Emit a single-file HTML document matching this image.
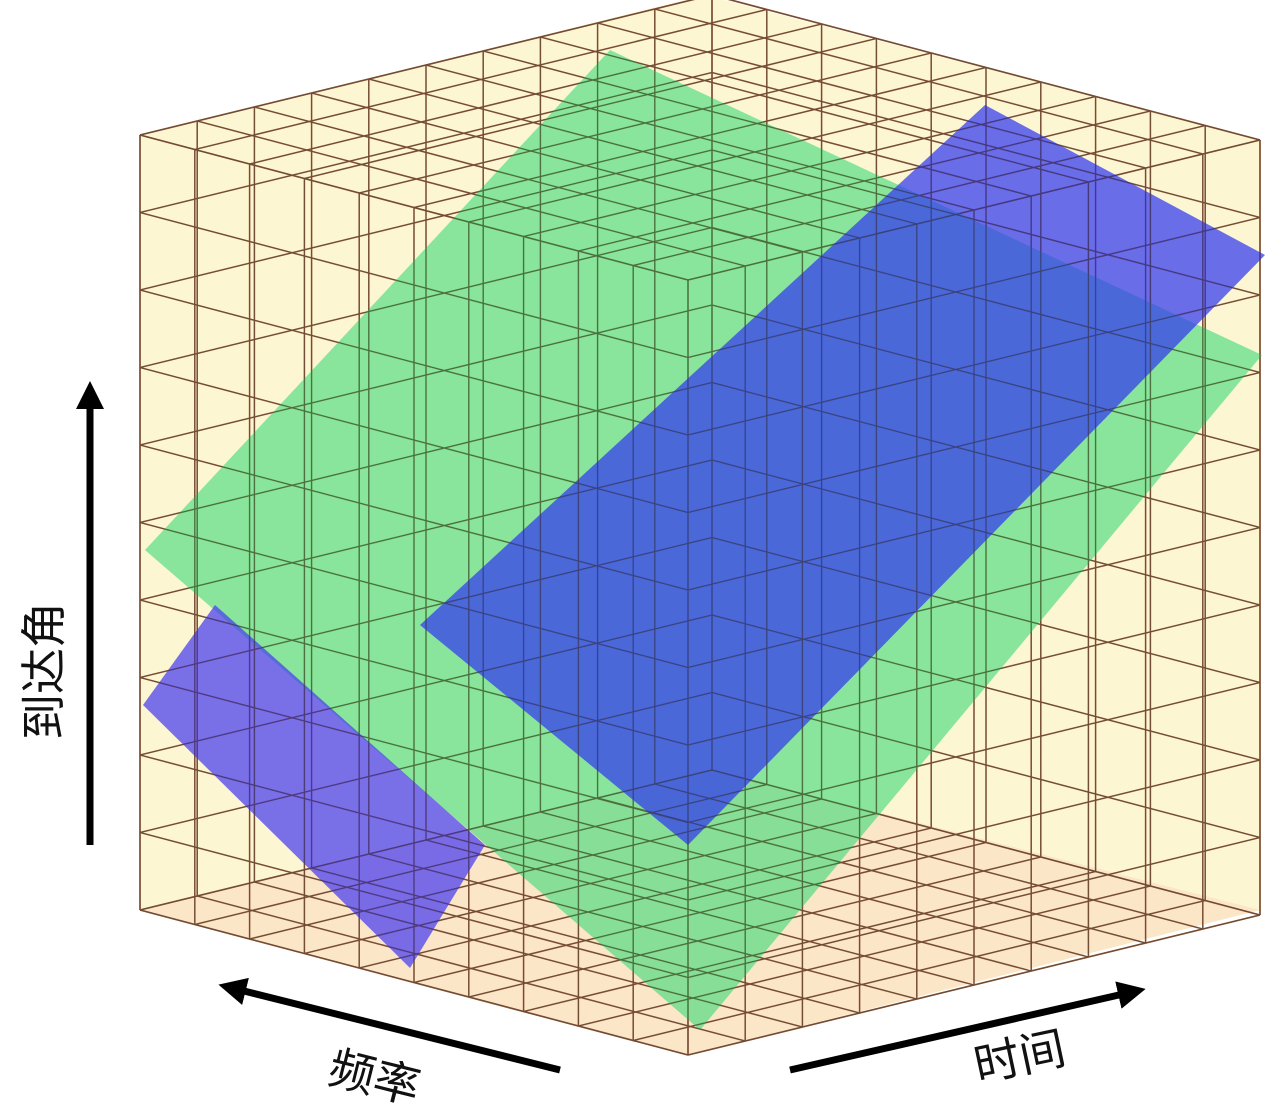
<!DOCTYPE html>
<html><head><meta charset="utf-8"><style>
html,body{margin:0;padding:0;background:#fff;width:1280px;height:1114px;overflow:hidden}
svg{display:block}
text{font-family:"Liberation Sans","Noto Sans CJK SC",sans-serif;font-size:46px;fill:#111}
</style></head><body>
<svg id="s" width="1280" height="1114" viewBox="0 0 1280 1114">
<defs>
<marker id="ah" viewBox="0 0 10 10" refX="5" refY="5" markerWidth="4" markerHeight="4" orient="auto"><path d="M0,0L10,5L0,10z" fill="#000"/></marker>
</defs>
<polygon points="140,135 705,-5 1260,140 1260,910 688,1055 140,910" fill="#fcf7d2"/>
<polygon points="140,910 688,1055 1260,910 712,770" fill="#fbe6c8"/>
<g id="grid" stroke="#a0684a" stroke-width="1.6" fill="none"></g>
<polygon points="145,550 610,50 1262,355 700,1030" fill="rgba(40,215,110,0.55)"/>
<polygon points="143,705 215,605 485,845 410,968" fill="rgba(70,60,240,0.72)"/>
<polygon points="420,625 985,105 1265,255 688,845" fill="rgba(50,55,240,0.72)"/>
<g id="grid2" stroke="#3a3020" stroke-width="1" fill="none" opacity="0.5"></g>
<line x1="90" y1="845" x2="90" y2="395" stroke="#000" stroke-width="7" marker-end="url(#ah)"/>
<line x1="560" y1="1070" x2="232" y2="988" stroke="#000" stroke-width="7" marker-end="url(#ah)"/>
<line x1="790" y1="1070" x2="1132" y2="992" stroke="#000" stroke-width="7" marker-end="url(#ah)"/>
<text transform="translate(60,740) rotate(-90)">到达角</text>
<text transform="translate(326,1082) rotate(14)">频率</text>
<text transform="translate(978,1082) rotate(-12)">时间</text>
</svg>
<script>
var O=[688,1055],u=[-548,-145],v=[572,-140],w=[0,-775],N=10;
function P(a,b,c){return [O[0]+a*u[0]+b*v[0]+c*w[0],O[1]+a*u[1]+b*v[1]+c*w[1]];}
var out='';
function L(p,q){out+='<line x1="'+p[0].toFixed(1)+'" y1="'+p[1].toFixed(1)+'" x2="'+q[0].toFixed(1)+'" y2="'+q[1].toFixed(1)+'"/>';}
for(var i=0;i<=N;i++){var t=i/N;
 for(var f=0;f<=1;f++){
  L(P(f,t,0),P(f,t,1));L(P(f,0,t),P(f,1,t));
  L(P(t,f,0),P(t,f,1));L(P(0,f,t),P(1,f,t));
  L(P(t,0,f),P(t,1,f));L(P(0,t,f),P(1,t,f));
 }}
document.getElementById('grid').innerHTML=out;
document.getElementById('grid2').innerHTML=out;
</script>
</body></html>
